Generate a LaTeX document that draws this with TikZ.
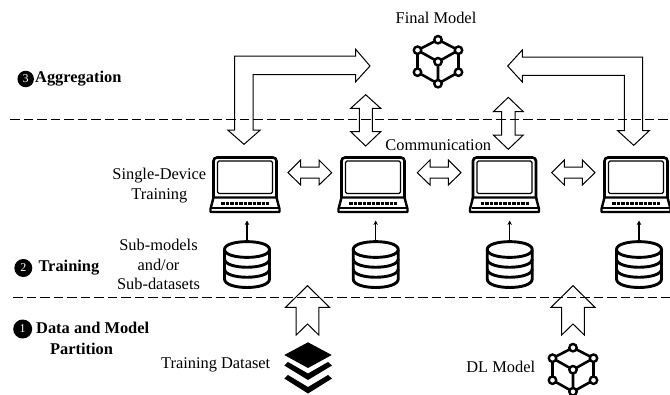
\documentclass[tikz,border=0pt]{standalone}
\usepackage{fontspec}
\setmainfont{Liberation Serif}
\usetikzlibrary{arrows.meta}
\tikzset{
  blockarrow/.style={draw=black,line width=1pt,line join=miter},
  lbl/.style={align=center,inner sep=0pt,font=\fontsize{16.4}{19.4}\selectfont},
  boldlbl/.style={align=left,inner sep=0pt,font=\fontsize{16.4}{20.7}\selectfont\bfseries},
  numdot/.style={circle,fill=black,text=white,inner sep=0pt,minimum size=#1,font=\fontsize{12}{12}\selectfont},
  sep/.style={dash pattern=on 9.5pt off 4pt,line width=1pt},
  cubeedge/.style={line width=2.6pt},
  cubevertex/.style={circle,draw=black,fill=white,line width=2.4pt,inner sep=0pt,minimum size=7.4pt},
  tiny arrow/.style={line width=1.2pt,-{Stealth[length=4.5pt,width=4.5pt]}},
}
\newcommand{\laptop}[1]{%
 \begin{scope}[shift={(#1,0)}]
  \draw[line width=2.6pt,rounded corners=3.5pt,fill=white] (-31.5,200) -- (-31.5,157.5) -- (31.5,157.5) -- (31.5,200);
  \draw[line width=1.3pt,rounded corners=1.5pt] (-27.5,161) rectangle (27.5,193.5);
  \draw[line width=2.4pt,fill=white,line join=round] (-31.5,197.5) -- (31.5,197.5) -- (34.5,209) -- (34.5,212) -- (-34.5,212) -- (-34.5,209) -- cycle;
  \draw[line width=3pt,dash pattern=on 3.6pt off 0.9pt] (-24,203) -- (24,203);
  \draw[line width=1.2pt] (-33,208) -- (33,208);
 \end{scope}}
\newcommand{\dbicon}[1]{%
 \begin{scope}[shift={(#1,0)}]
  \draw[line width=2.9pt,fill=white] (-22.5,250) -- (-22.5,279) .. controls (-22.5,290.3) and (22.5,290.3) .. (22.5,279) -- (22.5,250);
  \draw[line width=2.9pt,fill=white] (-22.5,249.5) .. controls (-22.5,239) and (22.5,239) .. (22.5,249.5) .. controls (22.5,260) and (-22.5,260) .. (-22.5,249.5) -- cycle;
  \draw[line width=2.9pt] (-22.5,259) .. controls (-22.5,270) and (22.5,270) .. (22.5,259);
  \draw[line width=2.9pt] (-22.5,269) .. controls (-22.5,280) and (22.5,280) .. (22.5,269);
 \end{scope}}
\newcommand{\cubeicon}[3]{%
 \begin{scope}[shift={(#1,#2)}]
  \coordinate (#3t) at (0,-22); \coordinate (#3ul) at (-20.5,-11.5); \coordinate (#3ur) at (20.5,-11.5);
  \coordinate (#3c) at (0,0); \coordinate (#3ll) at (-20.5,10.5); \coordinate (#3lr) at (20.5,10.5); \coordinate (#3b) at (0,22);
  \draw[cubeedge] (#3t)--(#3ul)--(#3ll)--(#3b)--(#3lr)--(#3ur)--(#3t);
  \draw[cubeedge] (#3ul)--(#3c)--(#3ur) (#3c)--(#3b);
  \foreach \v in {t,ul,ur,c,ll,lr,b} \node[cubevertex] at (#3\v) {};
 \end{scope}}
\begin{document}
\begin{tikzpicture}[x=1pt,y=-1pt]
\useasboundingbox (0,0) rectangle (670,394);
% separators
\coordinate (s1a) at (10,119); \coordinate (s1b) at (670,119);
\coordinate (s2a) at (13,297.7); \coordinate (s2b) at (670,297.7);
\draw[sep] (s1a) -- (s1b);
\draw[sep] (s2a) -- (s2b);
% L arrows
\draw[blockarrow] (244,144.3) -- (227.7,130) -- (234.7,130) -- (234.7,56) -- (355.7,56) -- (355.7,49.3) -- (370,66) -- (355.7,81.7) -- (355.7,74.7) -- (253,74.7) -- (253,130) -- (260.3,130) -- cycle;
\draw[blockarrow] (633.7,145.3) -- (617.7,130.7) -- (624.3,130.7) -- (624.3,75.3) -- (522.3,75.3) -- (522.3,82) -- (507.7,66) -- (522.3,50) -- (522.3,57) -- (642.7,57) -- (642.7,130.7) -- (649.3,130.7) -- cycle;
% vertical double arrows
\draw[blockarrow] (365.7,94.7) -- (380.7,108.3) -- (372.3,108.3) -- (372.3,131.7) -- (380.7,131.7) -- (365.7,146) -- (350.7,131.7) -- (359.3,131.7) -- (359.3,108.3) -- (350.7,108.3) -- cycle;
\draw[blockarrow] (508.3,97.3) -- (523.3,111.7) -- (515,111.7) -- (515,135) -- (523.3,135) -- (508.3,149.3) -- (493.3,135) -- (501.7,135) -- (501.7,111.7) -- (493.3,111.7) -- cycle;
% horizontal double arrows
\foreach \xa/\xb/\xc/\xd in {288/300.7/319/331.7, 417.3/430/448.3/461, 551.7/564.3/582.3/595}{
 \draw[blockarrow] (\xa,172.7) -- (\xb,160) -- (\xb,167) -- (\xc,167) -- (\xc,160) -- (\xd,172.7) -- (\xc,185) -- (\xc,178) -- (\xb,178) -- (\xb,185) -- cycle;
}
% up arrows
\foreach \xc in {307.5,573}{
 \draw[blockarrow] (\xc,285.7) -- (\xc+22,307.3) -- (\xc+11.3,307.3) -- (\xc+11.3,335) -- (\xc,324) -- (\xc-11.3,335) -- (\xc-11.3,307.3) -- (\xc-22,307.3) -- cycle;
}
% icons
\laptop{245}
\laptop{373}
\laptop{504.5}
\laptop{636}
\dbicon{247}
\dbicon{375.7}
\dbicon{509.7}
\dbicon{639}
\foreach \xc in {247,375.7,509.7,639}{
 \draw[tiny arrow] (\xc,240) -- (\xc,220.5);
}
\cubeicon{438}{61.7}{f}
\cubeicon{573}{369.7}{d}
% stack
\fill[line join=round] (308,342.3) -- (331.7,355) -- (308,368) -- (284.3,355) -- cycle;
\fill[line join=round] (288,362) -- (308,373.5) -- (328,362) -- (332,365.5) -- (308,380) -- (284.3,365.5) -- cycle;
\fill[line join=round] (288,375) -- (308,387) -- (328,375) -- (332,378.5) -- (308,393.5) -- (284.3,378.5) -- cycle;
% labels
\node[lbl] (final) at (436,18) {Final Model};
\node[lbl] (comm) at (438.3,145) {Communication};
\node[lbl] (single) at (159.3,185.5) {Single-Device\\Training};
\node[lbl] (sub) at (158.5,264.5) {Sub-models\\and/or\\Sub-datasets};
\node[lbl] (tds) at (215.7,364.7) {Training Dataset};
\node[lbl] (dlm) at (500.7,367.3) {DL Model};
\node[numdot=16.5pt] (n3) at (25.7,79) {3};
\node[boldlbl,anchor=west] (agg) at (35,79) {Aggregation};
\node[numdot=18pt] (n2) at (23.3,268) {2};
\node[boldlbl,anchor=west] (tr) at (38.3,268) {Training};
\node[numdot=19pt] (n1) at (22.7,329) {1};
\node[boldlbl,anchor=north west] (dm) at (36,322) {Data and Model\\\hspace*{14pt}Partition};
\end{tikzpicture}
\end{document}
